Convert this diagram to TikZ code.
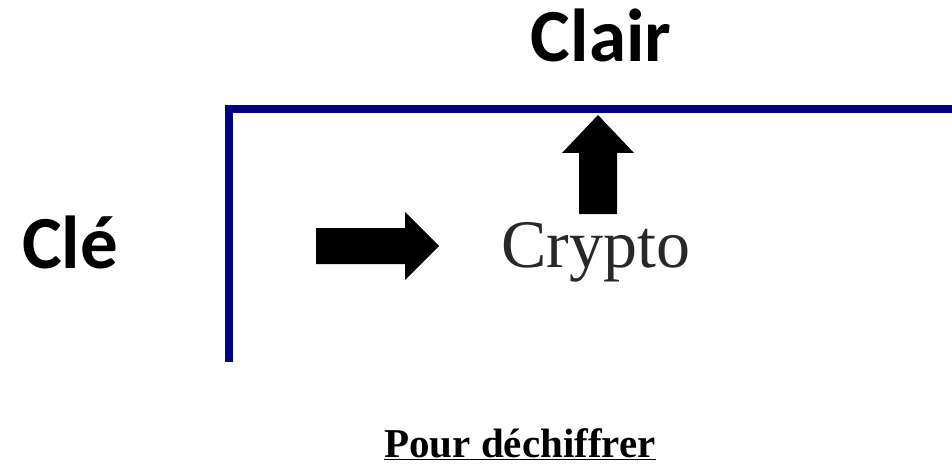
\documentclass[tikz,border=0pt]{standalone}
\usepackage{fontspec}
\setmainfont{Liberation Serif}
\newfontfamily\carlito{Carlito}
\definecolor{navyline}{RGB}{0,0,128}
\definecolor{cryptogray}{RGB}{40,40,40}
\tikzset{
  bigsans/.style={font=\carlito\bfseries\fontsize{75}{80}\selectfont, inner sep=0pt},
  serifbig/.style={font=\fontsize{68}{72}\selectfont, text=cryptogray, inner sep=0pt},
  caption/.style={font=\bfseries\fontsize{41}{46}\selectfont, inner sep=0pt},
  blockarrow/.style={fill=black, draw=none},
  frameline/.style={draw=navyline, line width=8pt, line join=miter}
}
\begin{document}
\begin{tikzpicture}[x=1pt,y=-1pt]
\useasboundingbox (0,0) rectangle (952,465);
% frame
\coordinate (fbot) at (229,362);
\coordinate (fcorner) at (229,109);
\coordinate (fend) at (952,109);
\draw[frameline] (fbot) -- (fcorner) -- (fend);
% texts
\node[bigsans, anchor=base] (clair) at (601,62) {Clair};
\node[bigsans, anchor=base] (cle) at (70,268) {Clé};
\node[serifbig, anchor=base] (crypto) at (596,267) {Crypto};
\node[caption, anchor=base] (pour) at (520,457) {\underline{Pour déchiffrer}};
% right block arrow
\fill[blockarrow] (316,228) -- (405,228) -- (405,212) -- (439,246) -- (405,280) -- (405,264) -- (316,264) -- cycle;
% up block arrow
\fill[blockarrow] (579,214) -- (579,153) -- (562,153) -- (598,115) -- (634,153) -- (617,153) -- (617,214) -- cycle;
\end{tikzpicture}
\end{document}
